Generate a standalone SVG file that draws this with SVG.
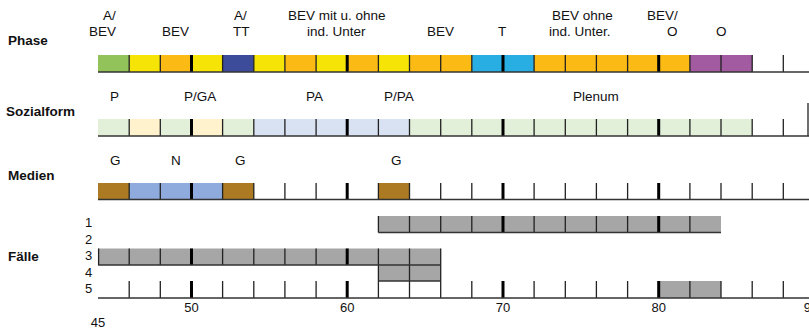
<svg xmlns="http://www.w3.org/2000/svg" width="809" height="329" viewBox="0 0 809 329">
<style>
text{font-family:"Liberation Sans",Arial,sans-serif;font-size:13.5px;fill:#111}
.h{font-weight:bold;font-size:13.5px}
.n{font-size:13px}
.c{text-anchor:middle}
.base{stroke:#333;stroke-width:1.6;fill:none}
.t{stroke:#222;stroke-width:1.3;fill:none}
.T{stroke:#000;stroke-width:3;fill:none}
.g{fill:#92c35a}.y{fill:#f5e406}.o{fill:#fcbb14}.b{fill:#3c4b9a}.cy{fill:#28aee3}.p{fill:#a25ba0}
.lg{fill:#e2efd9}.ly{fill:#fff2cc}.lb{fill:#d9e2f3}
.br{fill:#ab7a22}.mb{fill:#8faadc}.gr{fill:#a6a6a6}
</style>
<rect width="809" height="329" fill="#fff"/>

<g id="phase">
<text class="h" x="8" y="45">Phase</text>
<text x="103" y="20">A/</text>
<text x="89" y="36">BEV</text>
<text x="162" y="36">BEV</text>
<text x="234" y="20">A/</text>
<text x="233" y="36">TT</text>
<text x="288" y="20">BEV mit u. ohne</text>
<text x="307" y="36">ind. Unter</text>
<text x="427" y="36">BEV</text>
<text x="498" y="36">T</text>
<text x="552" y="20">BEV ohne</text>
<text x="549" y="36">ind. Unter.</text>
<text x="647" y="20">BEV/</text>
<text x="667" y="36">O</text>
<text x="716" y="36">O</text>
<rect class="g" x="98" y="55" width="31.2" height="17"/>
<rect class="y" x="129.2" y="55" width="31.1" height="17"/>
<rect class="o" x="160.3" y="55" width="31.2" height="17"/>
<rect class="y" x="191.5" y="55" width="31.1" height="17"/>
<rect class="b" x="222.6" y="55" width="31.2" height="17"/>
<rect class="y" x="253.8" y="55" width="31.1" height="17"/>
<rect class="o" x="284.9" y="55" width="31.2" height="17"/>
<rect class="y" x="316.1" y="55" width="31.1" height="17"/>
<rect class="o" x="347.2" y="55" width="31.2" height="17"/>
<rect class="y" x="378.4" y="55" width="31.1" height="17"/>
<rect class="o" x="409.5" y="55" width="62.3" height="17"/>
<rect class="cy" x="471.8" y="55" width="62.3" height="17"/>
<rect class="o" x="534.1" y="55" width="155.8" height="17"/>
<rect class="p" x="689.9" y="55" width="62.3" height="17"/>
<path class="t" d="M129.2 55V72M160.3 55V72M222.6 55V72M253.8 55V72M284.9 55V72M316.1 55V72M378.4 55V72M409.5 55V72M440.7 55V72M471.8 55V72M534.1 55V72M565.3 55V72M596.4 55V72M627.6 55V72M689.9 55V72M721 55V72M752.2 55V72M783.3 55V72"/>
<path class="T" d="M191.5 55V72M347.2 55V72M503 55V72M658.7 55V72"/>
<path class="base" d="M98 72H809"/>
</g>

<g id="sozialform">
<text class="h" x="6" y="116">Sozialform</text>
<text x="110" y="101">P</text>
<text x="184" y="101">P/GA</text>
<text x="306" y="101">PA</text>
<text x="384" y="101">P/PA</text>
<text x="573" y="101">Plenum</text>
<rect class="lg" x="98" y="119" width="31.2" height="17"/>
<rect class="ly" x="129.2" y="119" width="31.1" height="17"/>
<rect class="lg" x="160.3" y="119" width="31.2" height="17"/>
<rect class="ly" x="191.5" y="119" width="31.1" height="17"/>
<rect class="lg" x="222.6" y="119" width="31.2" height="17"/>
<rect class="lb" x="253.8" y="119" width="155.7" height="17"/>
<rect class="lg" x="409.5" y="119" width="342.7" height="17"/>
<path class="t" d="M129.2 119V136M160.3 119V136M222.6 119V136M253.8 119V136M284.9 119V136M316.1 119V136M378.4 119V136M409.5 119V136M440.7 119V136M471.8 119V136M534.1 119V136M565.3 119V136M596.4 119V136M627.6 119V136M689.9 119V136M721 119V136M752.2 119V136M783.3 119V136M808 103V136"/>
<path class="T" d="M191.5 119V136M347.2 119V136M503 119V136M658.7 119V136"/>
<path class="base" d="M98 136H809"/>
</g>

<g id="medien">
<text class="h" x="8" y="180">Medien</text>
<text x="110" y="165">G</text>
<text x="171" y="165">N</text>
<text x="235" y="165">G</text>
<text x="391" y="165">G</text>
<rect class="br" x="98" y="183" width="31.2" height="16.5"/>
<rect class="mb" x="129.2" y="183" width="93.4" height="16.5"/>
<rect class="br" x="222.6" y="183" width="31.2" height="16.5"/>
<rect class="br" x="378.4" y="183" width="31.1" height="16.5"/>
<path class="t" d="M129.2 183V199.5M160.3 183V199.5M222.6 183V199.5M253.8 183V199.5M284.9 183V199.5M316.1 183V199.5M378.4 183V199.5M409.5 183V199.5M440.7 183V199.5M471.8 183V199.5M534.1 183V199.5M565.3 183V199.5M596.4 183V199.5M627.6 183V199.5M689.9 183V199.5M721 183V199.5M752.2 183V199.5M783.3 183V199.5"/>
<path class="T" d="M191.5 183V199.5M347.2 183V199.5M503 183V199.5M658.7 183V199.5"/>
<path class="base" d="M98 199.5H809"/>
</g>

<g id="faelle">
<text class="h" x="8" y="261">Fälle</text>
<text class="n" x="85" y="227">1</text>
<text class="n" x="85" y="244">2</text>
<text class="n" x="85" y="260">3</text>
<text class="n" x="85" y="277">4</text>
<text class="n" x="85" y="293">5</text>
<rect class="gr" x="378.4" y="216" width="342.6" height="16.5"/>
<rect class="gr" x="98" y="248.5" width="342.7" height="16.5"/>
<rect class="gr" x="378.4" y="265" width="62.3" height="16"/>
<rect fill="#fff" x="378.4" y="281" width="62.3" height="17"/>
<rect class="gr" x="658.7" y="281" width="62.3" height="17"/>
<path class="t" d="M378.4 216V232.5M409.5 216V232.5M440.7 216V232.5M471.8 216V232.5M534.1 216V232.5M565.3 216V232.5M596.4 216V232.5M627.6 216V232.5M689.9 216V232.5"/>
<path class="T" d="M503 216V232.5M658.7 216V232.5"/>
<path class="base" d="M378.4 232.5H721"/>
<path class="t" d="M98.6 248.5V265M129.2 248.5V265M160.3 248.5V265M222.6 248.5V265M253.8 248.5V265M284.9 248.5V265M316.1 248.5V265M378.4 248.5V298M409.5 248.5V298M440.7 248.5V298"/>
<path class="T" d="M191.5 248.5V265M347.2 248.5V265"/>
<path class="base" d="M98 265H440.7M378.4 281H440.7"/>
<path class="t" d="M129.2 281V298M160.3 281V298M222.6 281V298M253.8 281V298M284.9 281V298M316.1 281V298M471.8 281V298M534.1 281V298M565.3 281V298M596.4 281V298M627.6 281V298M689.9 281V298M721 281V298M752.2 281V298M783.3 281V298"/>
<path class="T" d="M191.5 281V298M347.2 281V298M503 281V298M658.7 281V298"/>
<path class="base" d="M98 298H809"/>
</g>

<g id="axis">
<text class="n c" x="98" y="327">45</text>
<text class="n c" x="191.5" y="312">50</text>
<text class="n c" x="347.2" y="312">60</text>
<text class="n c" x="503" y="312">70</text>
<text class="n c" x="658.7" y="312">80</text>
<text class="n c" x="811" y="312">90</text>
</g>
</svg>
